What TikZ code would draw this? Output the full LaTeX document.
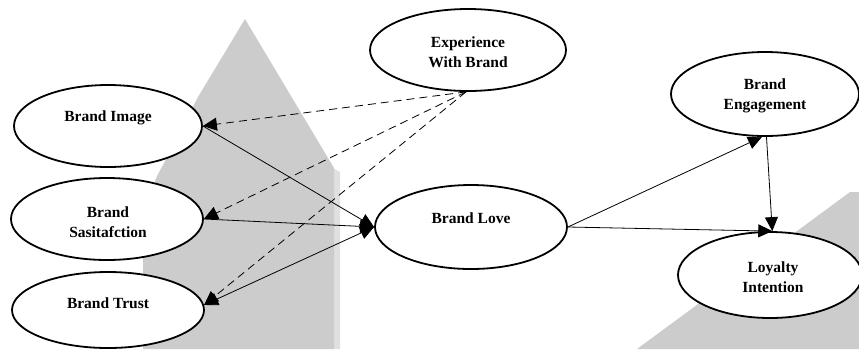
\documentclass[tikz,border=0pt]{standalone}
\usepackage{fontspec}
\setmainfont{Liberation Serif}
\usetikzlibrary{shapes.geometric,arrows.meta}
\definecolor{bggrey}{HTML}{CCCCCC}
\definecolor{bglight}{HTML}{E0E0E0}
\tikzset{
  construct/.style={draw=black, line width=1.8pt, ellipse, fill=white, inner sep=0pt},
  lbl/.style={font=\bfseries\fontsize{15.5}{20}\selectfont, align=center, inner sep=0pt},
  link/.style={line width=0.8pt, -{Triangle[length=14pt,width=13pt]}},
  dlink/.style={line width=0.8pt, dash pattern=on 8pt off 5pt, -{Triangle[length=14pt,width=13pt]}},
  both/.style={line width=0.8pt, {Triangle[length=14pt,width=13pt]}-{Triangle[length=14pt,width=13pt]}}
}
\begin{document}
\begin{tikzpicture}[x=1pt,y=-1pt]
\useasboundingbox (0,0) rectangle (859,349);
% background shapes
\fill[bglight] (333,168) -- (340,172) -- (340,349) -- (333,349) -- cycle;
\fill[bggrey] (245,19) -- (198,97) -- (163,165) -- (157,176) -- (148,200) -- (143,250) -- (143,349) -- (334,349) -- (334,168) -- cycle;
\fill[bggrey] (637,349) -- (850,192) -- (859,192) -- (859,349) -- cycle;
% ellipses
\node[construct, minimum width=196pt, minimum height=82pt] (exp) at (468,50) {};
\node[construct, minimum width=188pt, minimum height=82pt] (img) at (108,126) {};
\node[construct, minimum width=192pt, minimum height=82pt] (sat) at (107,219) {};
\node[construct, minimum width=192pt, minimum height=76pt] (tru) at (108,310) {};
\node[construct, minimum width=192pt, minimum height=84pt] (love) at (471,227) {};
\node[construct, minimum width=188pt, minimum height=84pt] (eng) at (765,94) {};
\node[construct, minimum width=184pt, minimum height=86pt] (loy) at (770,275) {};
% labels
\node[lbl] (texp) at (468,52) {Experience\\With Brand};
\node[lbl] (timg) at (108,118) {Brand Image};
\node[lbl] (tsat) at (108,222) {Brand\\Sasitafction};
\node[lbl] (ttru) at (108,303) {Brand Trust};
\node[lbl] (tlove) at (471,218) {Brand Love};
\node[lbl] (teng) at (765,96) {Brand\\Engagement};
\node[lbl] (tloy) at (773,277) {Loyalty\\Intention};
% connectors
\coordinate (es) at ([xshift=-2pt]exp.south);
\draw[dlink] (es) -- (img.east);
\draw[dlink] (es) -- (sat.east);
\draw[dlink] (es) -- (tru.3);
\draw[link] (img.east) -- (love.west);
\draw[link] (sat.east) -- (love.west);
\draw[both] (tru.3) -- (love.west);
\draw[link] (love.east) -- (eng.266);
\draw[link] (love.east) -- (loy.87);
\draw[link] (eng.272) -- (loy.87);
\end{tikzpicture}
\end{document}
